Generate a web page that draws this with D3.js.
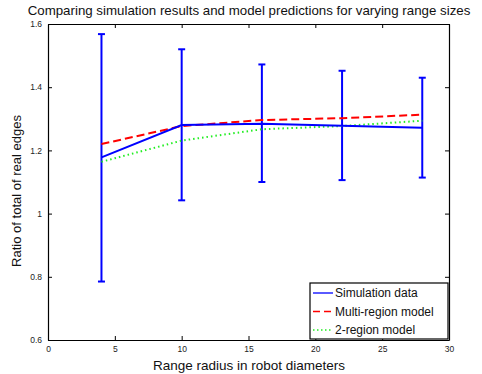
<!DOCTYPE html>
<html>
<head>
<meta charset="utf-8">
<script src="https://cdn.jsdelivr.net/npm/d3@7"></script>
<style>
  body { margin: 0; background: #fff; }
  svg { font-family: "Liberation Sans", Arial, sans-serif; }
</style>
</head>
<body>
<div id="chart"></div>
<script>
// Data
var radius = [4, 10, 16, 22, 28];
var simMean = [1.178, 1.280, 1.284, 1.278, 1.272];
var simLow = [0.785, 1.042, 1.100, 1.106, 1.114];
var simHigh = [1.568, 1.520, 1.472, 1.452, 1.430];
var multiModel = [1.220, 1.277, 1.296, 1.302, 1.313];
var twoModel = [1.164, 1.231, 1.267, 1.277, 1.294];

var xTicks = [0, 5, 10, 15, 20, 25, 30];
var yTicks = [0.6, 0.8, 1, 1.2, 1.4, 1.6];
var legendNames = ['Simulation data', 'Multi-region model', '2-region model'];

var width = 482,
    height = 374,
    margin = { top: 24, right: 33, bottom: 34, left: 48 };

var svg = d3.select('#chart').append('svg')
    .attr('width', width)
    .attr('height', height);

var x = d3.scaleLinear().domain([0, 30]).range([margin.left, width - margin.right]);
var y = d3.scaleLinear().domain([0.6, 1.6]).range([height - margin.bottom, margin.top]);

// Axes (ticks pointing inward on all four sides)
var tickFmt = function(d) { return d; };
svg.append('g')
    .attr('transform', 'translate(0,' + y(0.6) + ')')
    .call(d3.axisBottom(x).tickValues(xTicks).tickFormat(tickFmt).tickSizeInner(-4).tickSizeOuter(0).tickPadding(6));
svg.append('g')
    .attr('transform', 'translate(0,' + y(1.6) + ')')
    .call(d3.axisTop(x).tickValues(xTicks).tickFormat('').tickSizeInner(-4).tickSizeOuter(0));
svg.append('g')
    .attr('transform', 'translate(' + x(0) + ',0)')
    .call(d3.axisLeft(y).tickValues(yTicks).tickFormat(tickFmt).tickSizeInner(-4).tickSizeOuter(0).tickPadding(6));
svg.append('g')
    .attr('transform', 'translate(' + x(30) + ',0)')
    .call(d3.axisRight(y).tickValues(yTicks).tickFormat('').tickSizeInner(-4).tickSizeOuter(0));

svg.selectAll('.domain').attr('stroke', '#000').attr('stroke-width', 1.2);
svg.selectAll('.tick line').attr('stroke', '#000');
svg.selectAll('.tick text').attr('font-size', 8.5).attr('fill', '#222')
    .attr('font-family', '"Liberation Sans", Arial, sans-serif');

// Lines
var pts = function(vals) { return radius.map(function(r, i) { return [r, vals[i]]; }); };
var line = d3.line().x(function(d) { return x(d[0]); }).y(function(d) { return y(d[1]); });

// Error bars
var capW = 3.5;
radius.forEach(function(r, i) {
  var g = svg.append('g').attr('stroke', '#0000ff').attr('stroke-width', 2);
  g.append('line').attr('x1', x(r)).attr('x2', x(r)).attr('y1', y(simLow[i])).attr('y2', y(simHigh[i]));
  g.append('line').attr('x1', x(r) - capW).attr('x2', x(r) + capW).attr('y1', y(simLow[i])).attr('y2', y(simLow[i]));
  g.append('line').attr('x1', x(r) - capW).attr('x2', x(r) + capW).attr('y1', y(simHigh[i])).attr('y2', y(simHigh[i]));
});

svg.append('path').datum(pts(twoModel))
    .attr('d', line).attr('fill', 'none')
    .attr('stroke', '#22ee22').attr('stroke-width', 2).attr('stroke-dasharray', '1.5,3');
svg.append('path').datum(pts(multiModel))
    .attr('d', line).attr('fill', 'none')
    .attr('stroke', '#ff0000').attr('stroke-width', 2).attr('stroke-dasharray', '8,4');
svg.append('path').datum(pts(simMean))
    .attr('d', line).attr('fill', 'none')
    .attr('stroke', '#0000ff').attr('stroke-width', 2);

// Legend
var legend = svg.append('g');
legend.append('rect')
    .attr('x', 310).attr('y', 283).attr('width', 138).attr('height', 56)
    .attr('fill', '#fff').attr('stroke', '#000').attr('stroke-width', 1.2);
var legendStyle = [
  { color: '#0000ff', dash: null },
  { color: '#ff0000', dash: '7,4' },
  { color: '#22ee22', dash: '1.5,2.5' }
];
legendNames.forEach(function(name, i) {
  var ly = 293 + i * 18.5;
  legend.append('line')
      .attr('x1', 313).attr('x2', 333).attr('y1', ly).attr('y2', ly)
      .attr('stroke', legendStyle[i].color).attr('stroke-width', 1.3)
      .attr('stroke-dasharray', legendStyle[i].dash);
  legend.append('text')
      .attr('x', 335).attr('y', ly + 4)
      .attr('font-size', 12).attr('fill', '#111')
      .text(name);
});

// Title and axis labels
svg.append('text')
    .attr('x', 249).attr('y', 15)
    .attr('text-anchor', 'middle').attr('font-size', 13.3).attr('fill', '#111')
    .text('Comparing simulation results and model predictions for varying range sizes');
svg.append('text')
    .attr('x', 249).attr('y', 370)
    .attr('text-anchor', 'middle').attr('font-size', 13.5).attr('fill', '#111')
    .text('Range radius in robot diameters');
svg.append('text')
    .attr('transform', 'translate(21,191) rotate(-90)')
    .attr('text-anchor', 'middle').attr('font-size', 13).attr('fill', '#111')
    .text('Ratio of total of real edges');
</script>
</body>
</html>
